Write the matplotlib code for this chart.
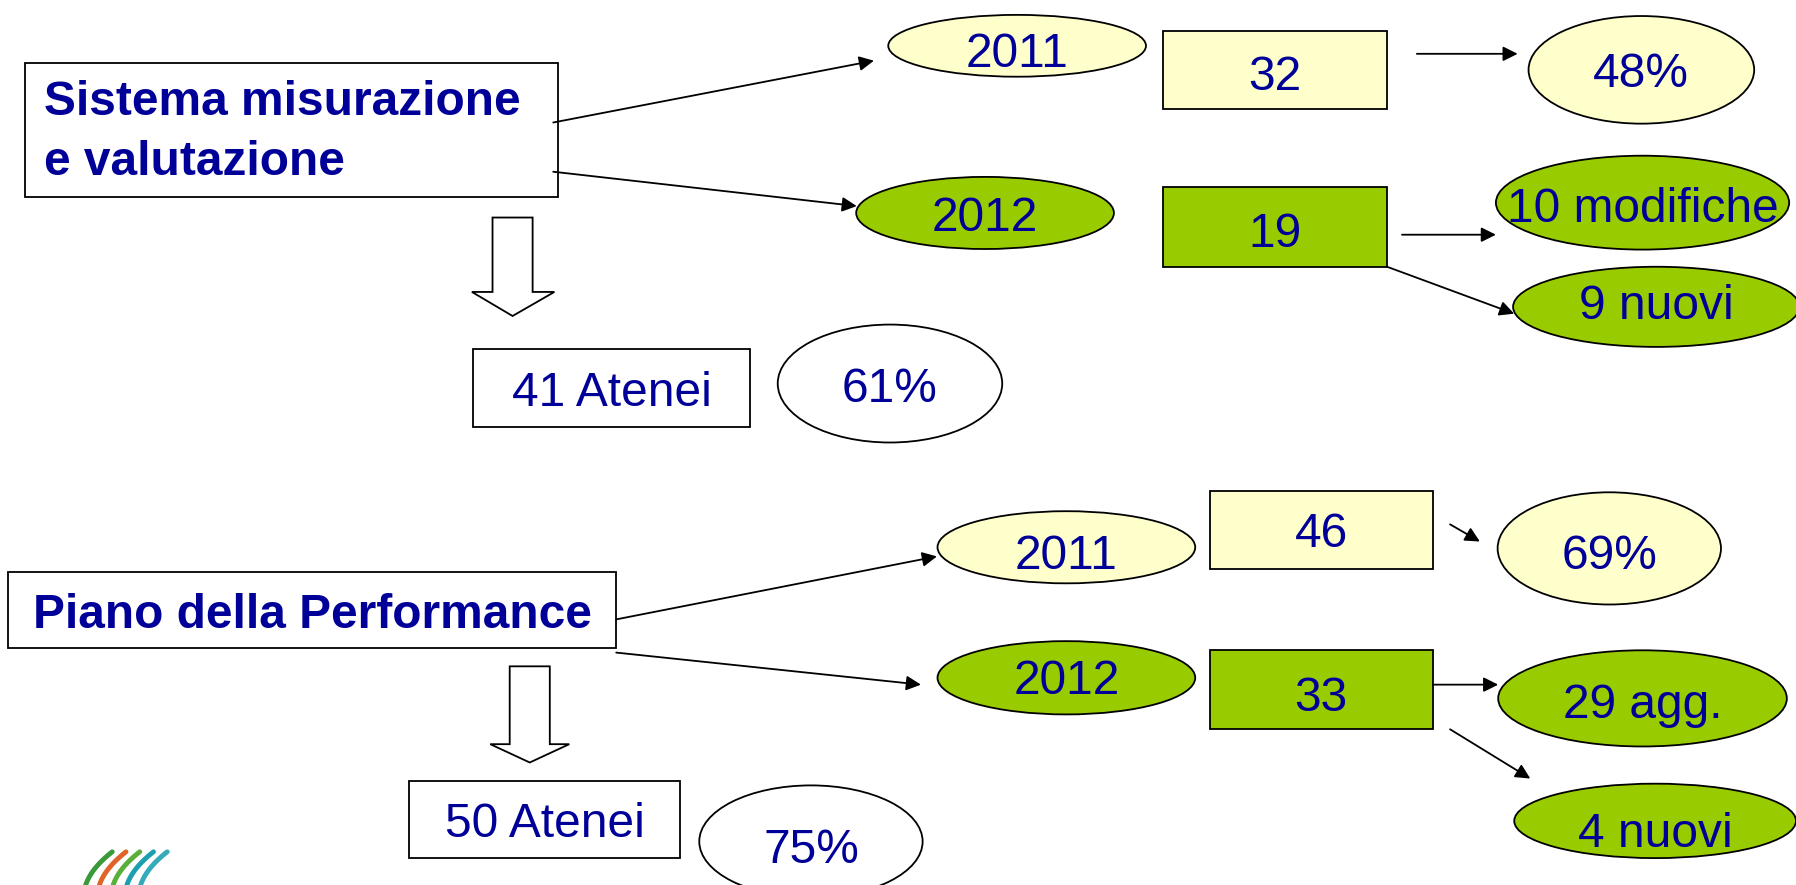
import matplotlib.pyplot as plt
import numpy as np
from matplotlib.patches import Ellipse, Rectangle, Polygon

plt.rcParams['font.family'] = ['Liberation Sans', 'DejaVu Sans']

# testi del diagramma
titoli = ["Sistema misurazione\ne valutazione", "Piano della Performance"]
anni = ["2011", "2012"]
conteggi_sis = ["32", "19"]
conteggi_piano = ["46", "33"]
esiti_sis = ["48%", "10 modifiche", "9 nuovi"]
esiti_piano = ["69%", "29 agg.", "4 nuovi"]
atenei = ["41 Atenei", "50 Atenei"]
quote = ["61%", "75%"]

BLU = "#000099"
GIALLO = "#FFFFCC"
VERDE = "#99CC00"
FS = 34.5
DY = 5  # il testo di Liberation sta un po' alto rispetto al centro

fig = plt.figure(figsize=(17.96, 8.85), dpi=100)
ax = fig.add_axes([0, 0, 1, 1])
ax.set_xlim(0, 1568)
ax.set_ylim(773, 0)
ax.axis("off")


def box(x0, y0, x1, y1, testo, fc="white", bold=False, ha="center", tx=None, ty=None):
    ax.add_patch(Rectangle((x0, y0), x1 - x0, y1 - y0, fc=fc, ec="black", lw=1.3))
    if tx is None:
        tx = (x0 + x1) / 2
    if ty is None:
        ty = (y0 + y1) / 2
    ax.text(tx, ty + DY, testo, ha=ha, va="center", color=BLU, fontsize=FS,
            fontweight="bold" if bold else "normal", linespacing=1.42)


def ellisse(cx, cy, w, h, testo, fc="white", ty=None):
    ax.add_patch(Ellipse((cx, cy), w, h, fc=fc, ec="black", lw=1.3))
    ax.text(cx, (cy if ty is None else ty) + DY, testo, ha="center", va="center",
            color=BLU, fontsize=FS)


def freccia(x0, y0, x1, y1):
    ax.annotate("", xy=(x1, y1), xytext=(x0, y0),
                arrowprops=dict(arrowstyle="-|>", mutation_scale=22, lw=1.3, color="black",
                                shrinkA=0, shrinkB=0))


def freccia_blocco(xs0, xs1, y0, y1, xh0, xh1, ytip):
    pts = [(xs0, y0), (xs1, y0), (xs1, y1), (xh1, y1), ((xs0 + xs1) / 2, ytip), (xh0, y1), (xs0, y1)]
    ax.add_patch(Polygon(pts, closed=True, fc="white", ec="black", lw=1.3))


# --- parte alta: sistema di misurazione e valutazione ---
box(22, 55, 487, 172, titoli[0], bold=True, ha="left", tx=38, ty=111)
freccia(483, 107, 763, 53)
freccia(483, 150, 748, 180)
ellisse(888, 40, 225, 54, anni[0], fc=GIALLO, ty=43)
ellisse(860, 186, 225, 63, anni[1], fc=VERDE)
box(1015, 27, 1211, 95, conteggi_sis[0], fc=GIALLO, ty=63)
box(1015, 163, 1211, 233, conteggi_sis[1], fc=VERDE, ty=200)
freccia(1237, 47, 1325, 47)
ellisse(1433, 61, 197, 94, esiti_sis[0], fc=GIALLO, ty=60)
freccia(1224, 205, 1306, 205)
ellisse(1434, 177, 256, 82, esiti_sis[1], fc=VERDE, ty=178)
freccia(1211, 233, 1322, 274)
ellisse(1446, 268, 250, 70, esiti_sis[2], fc=VERDE, ty=263)
freccia_blocco(430, 465, 190, 255, 412, 484, 276)
box(413, 305, 655, 373, atenei[0])
ellisse(777, 335, 196, 103, quote[0])

# --- parte bassa: piano della performance ---
box(7, 500, 538, 566, titoli[1], bold=True)
freccia(538, 541, 818, 486)
freccia(538, 570, 804, 598)
ellisse(931, 478, 225, 63, anni[0], fc=GIALLO, ty=481)
ellisse(931, 592, 225, 64, anni[1], fc=VERDE, ty=590)
box(1056, 429, 1251, 497, conteggi_piano[0], fc=GIALLO, ty=462)
box(1056, 568, 1251, 637, conteggi_piano[1], fc=VERDE, ty=605)
freccia(1266, 458, 1292, 473)
ellisse(1405, 479, 195, 98, esiti_piano[0], fc=GIALLO, ty=481)
freccia(1251, 598, 1308, 598)
ellisse(1434, 610, 252, 84, esiti_piano[1], fc=VERDE, ty=611)
freccia(1266, 637, 1336, 680)
ellisse(1445, 717, 246, 65, esiti_piano[2], fc=VERDE, ty=724)
freccia_blocco(445, 480, 582, 650, 428, 497, 666)
box(357, 682, 594, 749, atenei[1])
ellisse(708, 735, 195, 98, quote[1], ty=738)

# logo in basso a sinistra
colori_logo = ["#3a9a3a", "#e0642a", "#5aae3a", "#1e9fb0", "#35aabb"]
t = np.linspace(0, 1, 30)
for i, c in enumerate(colori_logo):
    x0 = 74 + i * 12
    xs = x0 + 24 * (0.3 * t + 0.7 * t ** 2)
    ys = 776 - 32 * t
    ax.plot(xs, ys, color=c, lw=3.5, solid_capstyle="round")

fig.savefig("out.png", dpi=100)
